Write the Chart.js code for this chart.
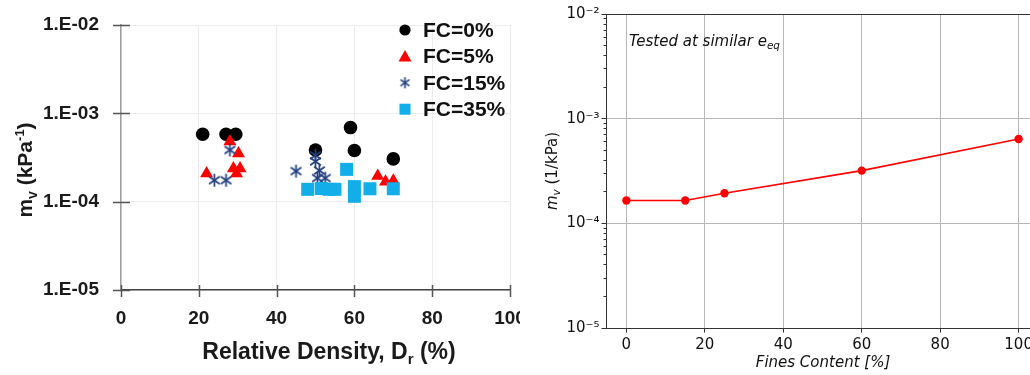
<!DOCTYPE html>
<html><head><meta charset="utf-8">
<script src="https://cdn.jsdelivr.net/npm/chart.js@4/dist/chart.umd.min.js"></script>
<style>
html,body{margin:0;padding:0;background:#fff;overflow:hidden;width:1030px;height:375px;}
#wrap{position:relative;width:1030px;height:375px;overflow:hidden;background:#fff;}
#c1{position:absolute;left:0;top:0;}
#c2{position:absolute;left:520px;top:0;}
</style></head><body>
<div id="wrap"><canvas id="c1" width="520" height="375"></canvas><canvas id="c2" width="532" height="375"></canvas></div>
<script>
// ---------- Left chart: m_v vs relative density ----------
const seriesNames = ['FC=0%', 'FC=5%', 'FC=15%', 'FC=35%'];
const fc0_dr  = [21, 27, 29.5, 50, 59, 60, 70];
const fc0_mv  = [5.8e-4, 5.8e-4, 5.8e-4, 3.85e-4, 6.9e-4, 3.8e-4, 3.05e-4];
const fc5_dr  = [22, 28, 30.2, 28.9, 30.6, 29.7, 66, 68, 70];
const fc5_mv  = [2.08e-4, 4.8e-4, 3.5e-4, 2.38e-4, 2.38e-4, 2.08e-4, 1.95e-4, 1.68e-4, 1.72e-4];
const fc15_dr = [24, 27, 28, 45, 50, 50, 51, 50.5, 52.5];
const fc15_mv = [1.75e-4, 1.75e-4, 3.85e-4, 2.22e-4, 3.35e-4, 2.85e-4, 2.25e-4, 1.85e-4, 1.85e-4];
const fc35_dr = [48, 51.5, 53.5, 55, 58, 60, 60, 64, 70];
const fc35_mv = [1.38e-4, 1.41e-4, 1.38e-4, 1.38e-4, 2.32e-4, 1.48e-4, 1.15e-4, 1.4e-4, 1.4e-4];
const leftXTicks  = [0, 20, 40, 60, 80, 100];
const leftYTicks  = [1e-5, 1e-4, 1e-3, 1e-2];
const leftYLabels = ['1.E-05', '1.E-04', '1.E-03', '1.E-02'];

// ---------- Right chart: m_v vs fines content ----------
const finesContent = [0, 15, 25, 60, 100];
const mvFines      = [1.65e-4, 1.65e-4, 1.94e-4, 3.19e-4, 6.39e-4];
const rightXTicks  = [0, 20, 40, 60, 80, 100];
const rightYTicks  = [1e-5, 1e-4, 1e-3, 1e-2];
const rightYLabels = ['10⁻⁵', '10⁻⁴', '10⁻³', '10⁻²'];

const ARIAL = '"Liberation Sans", Arial, sans-serif';
const DEJAVU = '"DejaVu Sans", sans-serif';

function pts(xs, ys) { return xs.map((x, i) => ({ x: x, y: ys[i] })); }
function labelFor(v, ticks, labels) {
  for (let i = 0; i < ticks.length; i++) if (Math.abs(Math.log10(v) - Math.log10(ticks[i])) < 1e-6) return labels[i];
  return '';
}
function makeAsterisk(size, color, lw) {
  const c = document.createElement('canvas'); c.width = size; c.height = size;
  const g = c.getContext('2d'); const r = size / 2 - 1, cx = size / 2, cy = size / 2;
  g.strokeStyle = color; g.lineWidth = lw;
  [90, 35, 145].forEach(a => {
    const t = a * Math.PI / 180;
    g.beginPath(); g.moveTo(cx - r * Math.cos(t), cy - r * Math.sin(t));
    g.lineTo(cx + r * Math.cos(t), cy + r * Math.sin(t)); g.stroke();
  });
  return c;
}
const asterisk = makeAsterisk(15, '#23407f', 1.7);
const asteriskSmall = makeAsterisk(13, '#23407f', 1.6);

function drawRich(ctx, parts, x, y, align) {
  let w = 0;
  parts.forEach(p => { ctx.font = p.font; p.w = ctx.measureText(p.t).width; w += p.w; });
  let cx = align === 'center' ? x - w / 2 : x;
  ctx.textAlign = 'left';
  parts.forEach(p => { ctx.font = p.font; ctx.fillText(p.t, cx, y + (p.dy || 0)); cx += p.w; });
}

function legendMarker(ctx, style, color, x, y) {
  ctx.fillStyle = color;
  if (style === 'circle') { ctx.beginPath(); ctx.arc(x, y, 5.6, 0, Math.PI * 2); ctx.fill(); }
  else if (style === 'triangle') { ctx.beginPath(); ctx.moveTo(x, y - 6.5); ctx.lineTo(x + 6.5, y + 5); ctx.lineTo(x - 6.5, y + 5); ctx.closePath(); ctx.fill(); }
  else if (style === 'rect') { ctx.fillRect(x - 5.5, y - 5.5, 11, 11); }
  else { ctx.drawImage(asteriskSmall, x - 6.5, y - 6.5); }
}

const leftDeco = {
  id: 'leftDeco',
  afterDraw(chart) {
    const ctx = chart.ctx, xs = chart.scales.x, ys = chart.scales.y;
    ctx.save();
    // crossing tick marks (Excel style)
    ctx.strokeStyle = '#555'; ctx.lineWidth = 1.5;
    ys.ticks.forEach(t => { const py = Math.round(ys.getPixelForValue(t.value)) + 0.5; ctx.beginPath(); ctx.moveTo(xs.left - 8, py); ctx.lineTo(xs.left + 9, py); ctx.stroke(); });
    xs.ticks.forEach(t => { const px = Math.round(xs.getPixelForValue(t.value)) + 0.5; ctx.beginPath(); ctx.moveTo(px, ys.bottom - 5); ctx.lineTo(px, ys.bottom + 7); ctx.stroke(); });
    // legend
    const lx = xs.left + 284, ly = ys.top + 5, dy = 26.4;
    chart.data.datasets.forEach((ds, i) => {
      const y = ly + dy * i;
      legendMarker(ctx, ds.legendStyle, ds.backgroundColor, lx, y);
      ctx.fillStyle = '#111'; ctx.font = 'bold 21px ' + ARIAL; ctx.textBaseline = 'middle'; ctx.textAlign = 'left';
      ctx.fillText(ds.label, lx + 18, y + 1);
    });
    // axis titles
    ctx.fillStyle = '#1a1a1a'; ctx.textBaseline = 'alphabetic';
    drawRich(ctx, [
      { t: 'Relative Density, D', font: 'bold 23px ' + ARIAL },
      { t: 'r', font: 'bold 15px ' + ARIAL, dy: 5 },
      { t: ' (%)', font: 'bold 23px ' + ARIAL }
    ], 329, 359, 'center');
    ctx.translate(32, 170); ctx.rotate(-Math.PI / 2);
    drawRich(ctx, [
      { t: 'm', font: 'bold 21px ' + ARIAL },
      { t: 'v', font: 'bold 14px ' + ARIAL, dy: 5 },
      { t: ' (kPa', font: 'bold 21px ' + ARIAL },
      { t: '-1', font: 'bold 13px ' + ARIAL, dy: -8 },
      { t: ')', font: 'bold 21px ' + ARIAL }
    ], 0, 0, 'center');
    ctx.restore();
  }
};

new Chart(document.getElementById('c1'), {
  type: 'scatter',
  data: { datasets: [
    { label: seriesNames[0], data: pts(fc0_dr, fc0_mv), pointStyle: 'circle', legendStyle: 'circle', pointRadius: 6.8, backgroundColor: '#000000', borderColor: '#000000', borderWidth: 0, order: 4 },
    { label: seriesNames[1], data: pts(fc5_dr, fc5_mv), pointStyle: 'triangle', legendStyle: 'triangle', pointRadius: 7.5, backgroundColor: '#ff0000', borderColor: '#ff0000', borderWidth: 0, order: 3 },
    { label: seriesNames[2], data: pts(fc15_dr, fc15_mv), pointStyle: asterisk, legendStyle: 'asterisk', pointRadius: 7, backgroundColor: '#23407f', borderColor: '#23407f', borderWidth: 0, order: 2 },
    { label: seriesNames[3], data: pts(fc35_dr, fc35_mv), pointStyle: 'rect', legendStyle: 'rect', pointRadius: 9.2, backgroundColor: '#12aeea', borderColor: '#12aeea', borderWidth: 0, order: 1 }
  ] },
  options: {
    responsive: false, animation: false, devicePixelRatio: 1,
    events: [],
    layout: { padding: { left: 0, top: 25, right: 10, bottom: 0 } },
    plugins: { legend: { display: false }, tooltip: { enabled: false } },
    scales: {
      x: {
        type: 'linear', min: 0, max: 100,
        afterBuildTicks: s => { s.ticks = leftXTicks.map(v => ({ value: v })); },
        grid: { color: '#ececec', drawTicks: false, lineWidth: 1 },
        border: { color: '#444444', width: 1.5 },
        ticks: { padding: 17, autoSkip: false, maxRotation: 0, color: '#1a1a1a', font: { family: ARIAL, size: 19, weight: 'bold' } },
        afterFit: s => { s.height = 85; s.paddingLeft = 0; s.paddingRight = 0; }
      },
      y: {
        type: 'logarithmic', min: 1e-5, max: 1e-2,
        afterBuildTicks: s => { s.ticks = leftYTicks.map(v => ({ value: v })); },
        grid: { color: '#ececec', drawTicks: false, lineWidth: 1 },
        border: { color: '#a0a0a0', width: 1.5 },
        ticks: { padding: 22, autoSkip: false, color: '#1a1a1a', font: { family: ARIAL, size: 19, weight: 'bold' },
                 callback: v => labelFor(v, leftYTicks, leftYLabels) },
        afterFit: s => { s.width = 121; s.paddingTop = 0; s.paddingBottom = 0; }
      }
    }
  },
  plugins: [leftDeco]
});

const rightDeco = {
  id: 'rightDeco',
  afterDraw(chart) {
    const ctx = chart.ctx, xs = chart.scales.x;
    ctx.save();
    ctx.fillStyle = '#111'; ctx.textBaseline = 'alphabetic';
    drawRich(ctx, [
      { t: 'Tested at similar e', font: 'italic 15px ' + DEJAVU },
      { t: 'eq', font: 'italic 10.5px ' + DEJAVU, dy: 3.5 }
    ], xs.left + 23, 45.5, 'left');
    drawRich(ctx, [{ t: 'Fines Content [%]', font: 'italic 15px ' + DEJAVU }], 303, 367, 'center');
    ctx.translate(37, 171); ctx.rotate(-Math.PI / 2);
    drawRich(ctx, [
      { t: 'm', font: 'italic 15px ' + DEJAVU },
      { t: 'v', font: 'italic 10.5px ' + DEJAVU, dy: 3 },
      { t: ' (1/kPa)', font: '15px ' + DEJAVU }
    ], 0, 0, 'center');
    ctx.restore();
  }
};

new Chart(document.getElementById('c2'), {
  type: 'line',
  data: { datasets: [{
    data: pts(finesContent, mvFines), borderColor: '#ff0000', backgroundColor: '#ff0000',
    borderWidth: 1.6, pointRadius: 4.2, pointBorderWidth: 0, tension: 0, fill: false
  }] },
  options: {
    responsive: false, animation: false, devicePixelRatio: 1,
    events: [],
    layout: { padding: { left: 0, top: 14, right: 13, bottom: 0 } },
    plugins: { legend: { display: false }, tooltip: { enabled: false } },
    scales: {
      x: {
        type: 'linear', min: -5.2, max: 105.2,
        afterBuildTicks: s => { s.ticks = rightXTicks.map(v => ({ value: v })); },
        grid: { color: '#b8b8b8', lineWidth: 1, tickLength: 4.5, tickColor: '#333' },
        border: { color: '#333333', width: 1 },
        ticks: { padding: 4, autoSkip: false, maxRotation: 0, color: '#111', font: { family: DEJAVU, size: 15 } },
        afterFit: s => { s.height = 47; s.paddingLeft = 0; s.paddingRight = 0; }
      },
      y: {
        type: 'logarithmic', position: 'left', weight: 1, min: 1e-5, max: 1e-2,
        afterBuildTicks: s => { s.ticks = rightYTicks.map(v => ({ value: v })); },
        grid: { color: c => (c.tick && Math.abs(c.tick.value - 1e-2) < 1e-9) ? '#333333' : '#b8b8b8', lineWidth: 1, tickLength: 4.5, tickColor: '#333' },
        border: { color: '#333333', width: 1 },
        ticks: { padding: 2, autoSkip: false, color: '#111', font: { family: DEJAVU, size: 15 },
                 callback: v => labelFor(v, rightYTicks, rightYLabels) },
        afterFit: s => { s.width = 86; s.paddingTop = 0; s.paddingBottom = 0; }
      },
      y2: {
        type: 'logarithmic', position: 'left', weight: 0, min: 1e-5, max: 1e-2,
        afterBuildTicks: s => {
          const t = [];
          for (let e = -5; e < -2; e++) for (let m = 2; m <= 9; m++) t.push({ value: m * Math.pow(10, e) });
          s.ticks = t;
        },
        grid: { drawOnChartArea: false, tickLength: 2.5, tickColor: '#333', lineWidth: 1 },
        border: { display: false },
        ticks: { display: false },
        afterFit: s => { s.width = 0; s.paddingTop = 0; s.paddingBottom = 0; }
      }
    }
  },
  plugins: [rightDeco]
});
</script>
</body></html>
